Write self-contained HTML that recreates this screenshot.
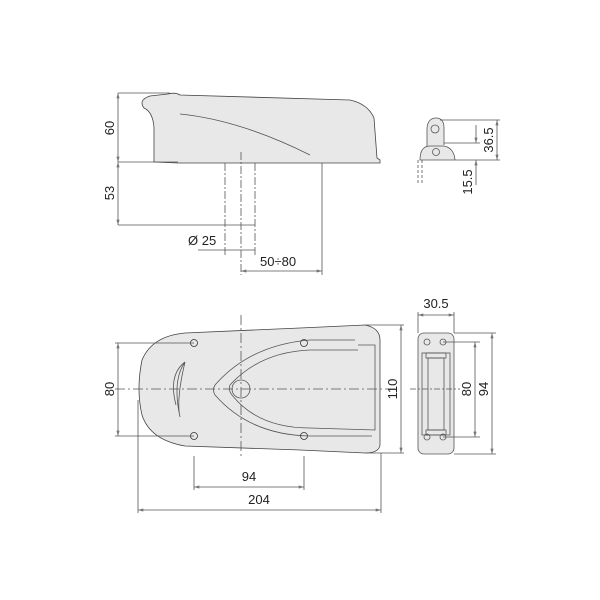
<!DOCTYPE html>
<html><head><style>body{margin:0;background:#fff}svg{display:block}text{font-family:"Liberation Sans",sans-serif;font-size:13px;fill:#222}</style></head><body>
<svg width="600" height="600" viewBox="0 0 600 600" xmlns="http://www.w3.org/2000/svg">
<defs><marker id="a" viewBox="0 0 10 6" refX="10" refY="3" markerWidth="8" markerHeight="4" orient="auto-start-reverse"><path d="M0,0L10,3L0,6z" fill="#777"/></marker></defs>
<g stroke="#555" stroke-width="0.8" fill="none">
<!-- top view -->
<path d="M154,162 L154,128 Q153,112 144,108 Q138,100 150,96 L168,94 Q175,92 180,95 L350,100 Q368,104 374,118 L377,158 L380,160 L380,163 L178,163 Z" fill="#e8e8e8" stroke="#444"/>
<path d="M180,114 Q240,120 310,155" />
<line x1="118" y1="93" x2="170" y2="93"/><line x1="118" y1="162" x2="178" y2="162"/><line x1="118" y1="225" x2="255" y2="225"/>
<line x1="118" y1="93" x2="118" y2="162" marker-start="url(#a)" marker-end="url(#a)"/>
<line x1="118" y1="162" x2="118" y2="225" marker-start="url(#a)" marker-end="url(#a)"/>
<line x1="225" y1="163" x2="225" y2="255" stroke-dasharray="8,2,2,2"/><line x1="255" y1="163" x2="255" y2="255" stroke-dasharray="8,2,2,2"/>
<line x1="241" y1="152" x2="241" y2="275" stroke-dasharray="8,2,2,2"/>
<line x1="198" y1="250" x2="225" y2="250"/><line x1="225" y1="250" x2="255" y2="250"/>
<line x1="322" y1="163" x2="322" y2="275"/>
<line x1="241" y1="271" x2="322" y2="271" marker-start="url(#a)" marker-end="url(#a)"/>
<!-- side bracket -->
<path d="M427,152 L427,128 Q428,118 436,118 Q444,118 444,128 L444,145" fill="#e8e8e8"/>
<circle cx="435" cy="129" r="4"/>
<path d="M420,160 Q420,146 430,146 L444,146 Q454,148 455,160 Z" fill="#e8e8e8"/>
<circle cx="436" cy="152" r="3.5"/>
<path d="M418,160 L418,183 M422,160 L422,183" stroke-dasharray="3,2"/>
<line x1="440" y1="120" x2="500" y2="120"/><line x1="444" y1="143" x2="480" y2="143"/><line x1="455" y1="160" x2="500" y2="160"/>
<line x1="497" y1="120" x2="497" y2="160" marker-start="url(#a)" marker-end="url(#a)"/>
<line x1="476" y1="125" x2="476" y2="143" marker-end="url(#a)"/>
<line x1="476" y1="160" x2="476" y2="185" marker-start="url(#a)"/>
<!-- bottom plan -->
<path d="M185,333 L300,328 L365,325 Q380,328 380,340 L380,445 Q379,453 365,453 L300,450 L185,446 Q150,440 142,415 Q136,390 142,360 Q152,336 185,333 Z" fill="#e8e8e8" stroke="#444"/>
<path d="M358,350 L310,350 Q260,352 230,385 Q228,390 232,395 Q258,428 310,428 L375,430 L375,345 Q375,345 358,345"/>
<path d="M355,340 L310,340 Q250,345 215,385 Q212,390 215,395 Q250,435 310,436 L372,436"/>
<path d="M185,362 Q168,375 176,405 M185,362 Q172,380 180,417 Q176,400 185,362"/>
<circle cx="241" cy="389" r="9"/>
<g stroke="#333"><circle cx="194" cy="343" r="3.5"/><circle cx="304" cy="343" r="3.5"/><circle cx="194" cy="436" r="3.5"/><circle cx="304" cy="436" r="3.5"/></g>
<line x1="115" y1="389" x2="395" y2="389" stroke-dasharray="10,3,2,3"/>
<line x1="241" y1="315" x2="241" y2="456" stroke-dasharray="10,3,2,3"/>
<line x1="115" y1="343" x2="194" y2="343"/><line x1="115" y1="436" x2="194" y2="436"/>
<line x1="118" y1="343" x2="118" y2="436" marker-start="url(#a)" marker-end="url(#a)"/>
<line x1="365" y1="325" x2="404" y2="325"/><line x1="365" y1="453" x2="404" y2="453"/>
<line x1="401" y1="325" x2="401" y2="453" marker-start="url(#a)" marker-end="url(#a)"/>
<line x1="194" y1="456" x2="194" y2="490"/><line x1="304" y1="456" x2="304" y2="490"/>
<line x1="194" y1="487" x2="304" y2="487" marker-start="url(#a)" marker-end="url(#a)"/>
<line x1="138" y1="400" x2="138" y2="513"/><line x1="381" y1="453" x2="381" y2="513"/>
<line x1="138" y1="510" x2="381" y2="510" marker-start="url(#a)" marker-end="url(#a)"/>
<!-- strike plate -->
<rect x="418" y="333" width="36" height="121" rx="6" fill="#e8e8e8"/>
<rect x="422" y="353" width="28" height="82"/><rect x="428" y="358" width="16" height="72"/>
<rect x="426" y="353" width="20" height="5"/><rect x="426" y="430" width="20" height="5"/>
<circle cx="427" cy="342" r="3"/><circle cx="443" cy="342" r="3"/><circle cx="427" cy="437" r="3"/><circle cx="443" cy="437" r="3"/>
<line x1="410" y1="389" x2="460" y2="389" stroke-dasharray="6,2,2,2"/>
<line x1="418" y1="312" x2="418" y2="333"/><line x1="454" y1="312" x2="454" y2="333"/>
<line x1="418" y1="315" x2="454" y2="315" marker-start="url(#a)" marker-end="url(#a)"/>
<line x1="443" y1="342" x2="480" y2="342"/><line x1="443" y1="437" x2="480" y2="437"/>
<line x1="454" y1="333" x2="496" y2="333"/><line x1="454" y1="454" x2="496" y2="454"/>
<line x1="475" y1="342" x2="475" y2="437" marker-start="url(#a)" marker-end="url(#a)"/>
<line x1="492" y1="333" x2="492" y2="454" marker-start="url(#a)" marker-end="url(#a)"/>
</g>
<text transform="translate(114,128) rotate(-90)" text-anchor="middle">60</text>
<text transform="translate(114,193) rotate(-90)" text-anchor="middle">53</text>
<text x="188" y="245">Ø 25</text>
<text x="260" y="266">50÷80</text>
<text transform="translate(493,140) rotate(-90)" text-anchor="middle">36.5</text>
<text transform="translate(472,182) rotate(-90)" text-anchor="middle">15.5</text>
<text transform="translate(114,389) rotate(-90)" text-anchor="middle">80</text>
<text transform="translate(397,389) rotate(-90)" text-anchor="middle">110</text>
<text x="249" y="481" text-anchor="middle">94</text>
<text x="259" y="504" text-anchor="middle">204</text>
<text x="436" y="308" text-anchor="middle">30.5</text>
<text transform="translate(471,389) rotate(-90)" text-anchor="middle">80</text>
<text transform="translate(488,389) rotate(-90)" text-anchor="middle">94</text>
</svg>
</body></html>
